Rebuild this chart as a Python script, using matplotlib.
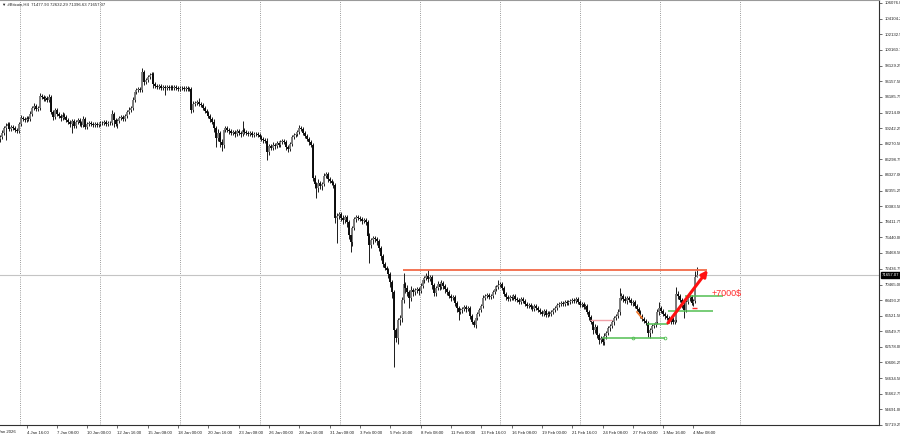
import matplotlib
matplotlib.use("Agg")
import matplotlib.pyplot as plt
import numpy as np

# H4 closes in thousands of dollars, one per bar (open = previous close)
closes = [
    89.12, 89.63, 90.26, 90.52, 90.77, 90.14, 90.39, 90.26, 90.01, 89.88,
    90.77, 91.53, 91.40, 91.28, 91.53, 91.40, 92.04, 92.80, 93.05, 92.67,
    92.80, 94.31, 94.19, 93.93, 94.06, 93.81, 94.19, 92.29, 91.66, 92.54,
    92.04, 91.78, 91.53, 91.91, 91.66, 91.28, 91.02, 90.77, 91.15, 90.52,
    91.02, 91.28, 90.90, 90.64, 91.40, 90.39, 90.77, 90.90, 90.77, 90.64,
    90.77, 90.64, 90.77, 90.90, 90.90, 91.02, 90.77, 90.90, 90.90, 92.04,
    91.28, 90.77, 91.15, 91.53, 91.66, 91.40, 91.78, 92.29, 92.54, 92.80,
    93.81, 94.82, 95.07, 95.20, 95.07, 97.35, 96.09, 96.34, 96.71, 96.97,
    97.10, 95.83, 95.58, 95.45, 95.58, 95.32, 95.45, 95.32, 95.45, 95.32,
    95.45, 95.32, 95.45, 95.32, 95.20, 95.32, 95.32, 95.20, 95.32, 95.20,
    95.20, 92.54, 93.30, 93.43, 93.56, 93.30, 93.18, 92.80, 92.42, 92.16,
    91.78, 91.40, 91.02, 90.26, 89.00, 89.63, 88.49, 88.11, 90.01, 90.26,
    90.01, 89.88, 89.63, 89.76, 89.51, 89.88, 89.63, 89.51, 90.01, 89.76,
    89.63, 89.51, 89.63, 89.38, 89.51, 89.51, 89.38, 89.12, 88.87, 88.75,
    88.62, 87.23, 87.99, 87.73, 88.11, 87.99, 88.37, 88.11, 88.49, 88.62,
    88.49, 87.86, 87.61, 88.24, 89.12, 89.38, 89.51, 89.76, 90.26, 90.14,
    89.63, 89.25, 88.87, 88.49, 88.11, 83.94, 83.18, 82.67, 83.31, 82.93,
    83.18, 84.19, 84.44, 83.81, 83.56, 83.31, 83.05, 78.88, 79.13, 79.38,
    78.88, 78.63, 79.00, 78.37, 76.73, 75.85, 77.61, 78.75, 79.00, 78.88,
    78.75, 78.50, 78.63, 78.37, 76.60, 75.47, 76.10, 76.35, 76.22, 75.97,
    75.08, 74.07, 73.06, 72.56, 72.30, 71.80, 70.78, 69.52, 64.71, 63.70,
    65.98, 66.23, 68.51, 70.53, 70.03, 69.52, 68.76, 69.77, 69.52, 69.77,
    69.90, 69.65, 70.28, 71.04, 71.29, 71.54, 71.16, 71.42, 70.41, 69.39,
    70.03, 70.53, 70.15, 70.66, 70.28, 69.90, 69.52, 69.01, 68.76, 68.89,
    68.13, 67.50, 66.99, 67.24, 67.37, 67.62, 67.37, 67.50, 66.48, 65.73,
    65.35, 66.23, 66.74, 67.24, 67.75, 68.76, 69.01, 69.14, 68.89, 69.01,
    69.52, 69.90, 70.15, 70.41, 70.53, 70.03, 69.27, 68.89, 68.63, 68.89,
    68.76, 69.01, 68.63, 68.51, 68.26, 68.63, 68.38, 68.00, 67.75, 67.88,
    67.62, 67.37, 67.75, 67.50, 67.24, 66.99, 66.74, 67.12, 66.61, 66.86,
    66.74, 66.99, 67.24, 67.50, 67.88, 68.00, 68.13, 68.00, 68.26, 68.13,
    68.26, 68.38, 68.51, 68.38, 68.63, 68.26, 67.88, 68.00, 67.62, 67.75,
    66.99, 66.36, 65.73, 64.71, 65.09, 64.08, 63.45, 63.70, 63.19, 63.95,
    64.33, 64.97, 65.22, 65.73, 66.23, 66.48, 66.99, 68.76, 69.01, 68.63,
    68.38, 68.76, 68.51, 68.13, 68.26, 67.75, 67.37, 66.99, 66.48, 66.11,
    65.85, 65.60, 64.33, 64.71, 65.22, 65.35, 65.73, 66.99, 67.50, 67.12,
    66.74, 66.48, 66.23, 65.85, 66.11, 65.73, 65.98, 69.27, 69.01, 68.51,
    67.88, 67.24, 68.26, 68.76, 68.89, 68.13, 68.38, 71.478, 71.657,
]
first_open = 88.90

# wick lengths above / below the body (thousands of dollars)
upper_wick = [
    .3, .4, .3, .4, .2, .3, .2, .3, .2, .3,
    .2, .4, .3, .2, .3, .2, .4, .3, .4, .2,
    .3, .4, .2, .3, .2, .3, .4, .25, .3, .3,
    .2, .3, .2, .4, .2, .3, .2, .3, .2, .3,
    .3, .2, .3, .2, .4, .2, .3, .2, .3, .2,
    .2, .3, .2, .2, .3, .2, .2, .3, .3, .5,
    .2, .3, .2, .3, .2, .3, .2, .3, .4, .3,
    .4, .3, .3, .2, .3, .5, .3, .2, .3, .2,
    .2, .2, .3, .2, .3, .2, .2, .3, .2, .2,
    .2, .3, .2, .2, .3, .2, .2, .3, .2, .2,
    .2, .3, .4, .3, .2, .5, .2, .3, .2, .2,
    .2, .3, .2, .4, .3, .5, .3, .4, .3, .2,
    .3, .2, .3, .2, .3, .2, .2, .3, 1.1, .2,
    .2, .2, .3, .2, .2, .2, .2, .3, .2, .2,
    .3, .4, .3, .2, .4, .3, .2, .3, .2, .3,
    .2, .3, .2, .3, .2, .3, .2, .3, .4, .3,
    .3, .2, .3, .2, .2, .2, .4, .3, .5, .3,
    .3, .4, .3, .2, .3, .2, .2, .3, .4, .3,
    .3, .4, .3, .2, .3, .5, .3, .2, .3, .2,
    .3, .2, .3, .2, .2, .4, .3, .2, .3, .2,
    .3, .2, .3, .2, .3, .2, .3, .2, .2, .3,
    .3, .4, .4, 1.39, .3, .4, .3, .5, .3, .3,
    .3, .3, .4, .3, .3, .4, .8, .3, .3, .2,
    .3, .4, .3, .4, .3, .2, .3, .2, .3, .3,
    .2, .3, .2, .3, .3, .2, .3, .2, .2, .3,
    .2, .3, .3, .2, .3, .4, .3, .2, .3, .2,
    .3, .4, .3, .63, .3, .2, .3, .2, .3, .3,
    .2, .3, .2, .2, .3, .2, .2, .3, .2, .2,
    .3, .2, .3, .2, .3, .2, .3, .2, .2, .3,
    .2, .3, .2, .2, .3, .2, .3, .2, .3, .2,
    .2, .3, .2, .3, .3, .2, .2, .3, .2, .2,
    .3, .2, .3, .2, .4, .2, .3, .2, .3, .4,
    .3, .2, .3, .2, .3, .3, .4, 1.27, .4, .3,
    .4, .3, .3, .2, .3, .2, .3, .2, .2, .3,
    .2, .3, .2, .3, .3, .2, .3, .4, .76, .3,
    .2, .3, .2, .3, .2, .3, .2, .88, .4, .3,
    .3, .4, .3, .4, .3, .3, .3, .7, .975,
]
lower_wick = [
    .36, .3, .2, 1.5, .3, .2, .3, .2, .3, .2,
    .3, .2, .3, .2, .2, .3, .2, .3, .2, .3,
    .2, .3, .3, .2, .3, .2, .3, .3, .4, .2,
    .3, .2, .4, .2, .3, .2, .3, .4, 1.1, .3,
    .2, .3, .4, .3, .2, .3, .2, .3, .2, .3,
    .3, .2, .2, .3, .2, .2, .3, .2, .3, .2,
    .9, .3, .5, .2, .3, .2, .3, .2, .2, .3,
    .3, .2, .3, .2, .3, .2, .4, .3, .2, .3,
    .2, .5, .2, .3, .2, .3, .2, .9, .2, .3,
    .2, .2, .3, .2, .2, .3, .2, .2, .3, .2,
    .2, .4, .3, .2, .3, .2, .3, .2, .3, .3,
    .3, .4, .3, .5, 1.1, .4, .6, .76, .4, .3,
    .3, .4, .3, .3, .4, .3, .3, .4, .3, .3,
    .2, .3, .2, .3, .2, .2, .3, .3, .3, .4,
    .3, 1.0, .4, .3, .3, .4, .3, .3, .3, .2,
    .3, .4, .4, .3, .3, .2, .3, .2, .2, .3,
    .3, .3, .3, .4, .3, .4, .5, 1.26, .5, .4,
    .5, .3, .3, .4, .3, .3, .4, .6, 3.16, .4,
    .4, .5, .4, .6, .5, 1.27, .5, .3, .4, .3,
    .3, .4, .3, .4, .5, 2.28, .4, .5, .4, .5,
    .4, .5, .4, .3, .4, .5, .6, .8, 4.68, .5,
    .8, .6, .5, .4, .6, .5, 1.26, .4, .5, .4,
    .4, .5, .3, .3, .4, .3, .4, .3, .5, .4,
    .4, .3, .4, .3, .4, .5, .4, .3, .4, .3,
    .4, .5, 1.0, .3, .4, .3, .4, .3, .4, .3,
    .3, .4, .3, .3, .2, .3, .3, .2, .3, .3,
    .3, .2, .3, .3, .2, .3, .3, .4, .3, .3,
    .3, .2, .3, .3, .2, .3, .3, .2, .3, .2,
    .3, .3, .2, .3, .3, .3, .2, .3, .3, .2,
    .3, .2, .3, .2, .3, .2, .2, .3, .2, .3,
    .2, .3, .2, .2, .3, .2, .3, .2, .3, .2,
    .3, .4, .3, .5, .4, .4, .5, .4, .4, .38,
    .4, .3, .4, .3, .4, .3, .3, .4, .3, .4,
    .3, .4, .3, .3, .4, .3, .3, .4, .3, .3,
    .3, .3, .5, .63, .4, .3, .3, .3, .4, .3,
    .3, .4, .3, .3, .4, .3, .3, .3, .4, .3,
    .4, 1.0, .3, .3, .4, .3, .4, .3, .081,
]

# time axis labels (every 16th H4 bar, first at bar 14)
time_labels = ["4 Jan 16:00", "7 Jan 08:00", "10 Jan 00:00", "12 Jan 16:00",
               "15 Jan 08:00", "18 Jan 00:00", "20 Jan 16:00", "23 Jan 08:00",
               "26 Jan 00:00", "28 Jan 16:00", "31 Jan 08:00", "3 Feb 00:00",
               "5 Feb 16:00", "8 Feb 08:00", "11 Feb 00:00", "13 Feb 16:00",
               "16 Feb 08:00", "19 Feb 00:00", "21 Feb 16:00", "24 Feb 08:00",
               "27 Feb 00:00", "1 Mar 16:00", "4 Mar 08:00"]

price_ticks = [106076.00, 104104.25, 102132.50, 100160.75, 98129.25, 96157.50,
               94185.75, 92214.00, 90242.25, 88270.50, 86298.75, 84327.00,
               82355.25, 80383.50, 78411.75, 76440.00, 74468.50, 72436.75,
               70465.00, 68493.25, 66521.50, 64549.75, 62578.00, 60606.25,
               58634.50, 56662.75, 54691.00, 52719.25]

last_ohlc = (71477.93, 72632.29, 71396.63, 71657.07)

# drawn objects (bar index, price)
resistance = (212.7, 373.1, 72300)
green_levels = [(317.7, 351.0, 63650), (341.4, 352.5, 65470),
                (352.5, 376.3, 67120), (361.5, 381.5, 69010)]
pink_level = (311.3, 323.0, 65980)
arrow_from = (352.5, 65600)
arrow_to = (373.6, 72300)
profit_text = (375.7, 69270, "+7000$")

# ---------------------------------------------------------------
c = np.array(closes) * 1000
o = np.concatenate([[first_open * 1000], c[:-1]])
hi = np.maximum(o, c) + np.array(upper_wick) * 1000
lo = np.minimum(o, c) - np.array(lower_wick) * 1000
x = np.arange(len(c))

plt.rcParams['font.family'] = ['Liberation Sans', 'DejaVu Sans']

fig = plt.figure(figsize=(9, 4.36), dpi=100)
ax = fig.add_axes([0, 1 - 425 / 436, 879 / 900, 425 / 436])
ax.set_xlim(0, 463.9)
ax.set_ylim(52693, 106455)

# vertical dotted grid
for k in range(10):
    ax.axvline(10.55 + 42.2 * k, color="#7a7a7a", lw=0.6, ls=(0, (1, 1.6)), zorder=0)

# bid line
ax.axhline(last_ohlc[3], color="#c4c4c4", lw=0.8, zorder=1)

bull = c >= o
ax.vlines(x, lo, hi, color="#1a1a1a", lw=0.7, zorder=2)
ax.vlines(x[bull], o[bull], c[bull], color="#7c7c7c", lw=1.4, zorder=3)
ax.vlines(x[~bull], o[~bull], c[~bull], color="#0c0c0c", lw=1.4, zorder=3)

# analyst drawings
ax.hlines(resistance[2], resistance[0], resistance[1], color="#f26a48", lw=1.3, zorder=4)
for x0, x1, lvl in green_levels:
    ax.hlines(lvl, x0, x1, color="#52bf52", lw=1.1, zorder=4)
ax.plot([334, 351], [green_levels[0][2]] * 2, "o", ms=2, mfc="none", mec="#52bf52", mew=0.6, zorder=4)
ax.hlines(pink_level[2], pink_level[0], pink_level[1], color="#f0a0a8", lw=1.0, zorder=4)
ax.plot([336.2, 338.8], [66990, 66230], color="#f07a30", lw=1.3, zorder=4)
ax.hlines(67500, 365.2, 367.8, color="#ff2a2a", lw=1.0, zorder=4)
ax.annotate("", xy=arrow_to, xytext=arrow_from,
            arrowprops=dict(arrowstyle="-|>", color="#ff1010", lw=2.2, mutation_scale=9,
                            shrinkA=0, shrinkB=0), zorder=5)
ax.text(profit_text[0], profit_text[1], profit_text[2], color="#ff2a2a", fontsize=6.5,
        ha="left", va="center", zorder=5)

# axes styling
ax.spines["left"].set_visible(False)
ax.spines["top"].set_color("#9a9a9a")
ax.spines["right"].set_color("#303030")
ax.spines["bottom"].set_color("#303030")
for s in ["top", "right", "bottom"]:
    ax.spines[s].set_linewidth(0.8)

ax.set_xticks(14 + 16 * np.arange(len(time_labels)))
ax.set_xticklabels(time_labels, fontsize=3.1, ha="left", color="#202020")
ax.tick_params(axis="x", direction="out", length=2.5, width=0.5, pad=1.5, color="#303030")
ax.text(-2.8, -0.012, "1 Jan 2026", transform=ax.get_xaxis_transform(), fontsize=3.1,
        ha="left", va="top", color="#202020", clip_on=False)

ax.yaxis.tick_right()
ax.set_yticks(price_ticks)
ax.set_yticklabels(["%.2f" % p for p in price_ticks], fontsize=3.1, color="#202020")
ax.tick_params(axis="y", direction="out", length=2.5, width=0.5, pad=1.5, color="#303030")

ax.annotate("%.2f" % last_ohlc[3], xy=(1.0, last_ohlc[3]), xycoords=("axes fraction", "data"),
            xytext=(2, 0), textcoords="offset points", fontsize=3.1, color="white",
            va="center", ha="left",
            bbox=dict(boxstyle="square,pad=0.25", fc="black", ec="black"))

fig.text(0.002, 1 - 5 / 436, "\u25bc #Bitcoin,H4  %.2f %.2f %.2f %.2f" % last_ohlc,
         fontsize=3.1, va="center", ha="left", color="#202020")

fig.savefig("out.png", dpi=100)
